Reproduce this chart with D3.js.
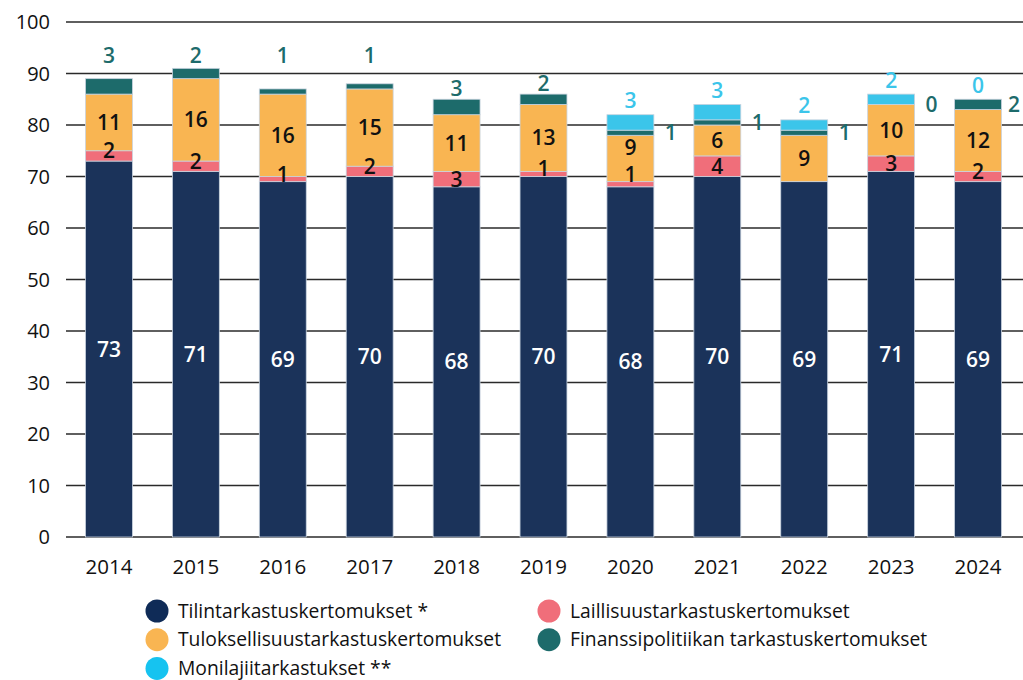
<!DOCTYPE html>
<html><head><meta charset="utf-8">
<script src="https://cdn.jsdelivr.net/npm/d3@7"></script>
<style>
body{margin:0;background:#fff;}
svg{display:block;font-family:"Open Sans",sans-serif;}
</style></head>
<body>
<svg id="chart" width="1023" height="680"></svg>
<script>
const years = ["2014","2015","2016","2017","2018","2019","2020","2021","2022","2023","2024"];
const tilintarkastus = [73,71,69,70,68,70,68,70,69,71,69];
const laillisuus = [2,2,1,2,3,1,1,4,0,3,2];
const tuloksellisuus = [11,16,16,15,11,13,9,6,9,10,12];
const finanssipolitiikka = [3,2,1,1,3,2,1,1,1,0,2];
const monilaji = [null,null,null,null,null,null,3,3,2,2,0];
const yTicks = [0,10,20,30,40,50,60,70,80,90,100];
const seriesNames = ["Tilintarkastuskertomukset *","Laillisuustarkastuskertomukset","Tuloksellisuustarkastuskertomukset","Finanssipolitiikan tarkastuskertomukset","Monilajiitarkastukset **"];

const colors = {
  til:"#1b335a", lai:"#f06e7a", tul:"#f9b552", fin:"#1d6b6b", mon:"#3bc5ea"
};

const rows = years.map((y,i)=>({year:y, til:tilintarkastus[i], lai:laillisuus[i], tul:tuloksellisuus[i], fin:finanssipolitiikka[i], mon:monilaji[i]||0}));
const keys = ["til","lai","tul","fin","mon"];
const stacked = d3.stack().keys(keys)(rows);

const svg = d3.select("#chart");
const x = d3.scaleBand().domain(years).range([65.5,1021.5]).paddingInner(0.46).paddingOuter(0.23);
const y = d3.scaleLinear().domain([0,100]).range([537,22]);

// grid
svg.append("g").selectAll("line").data(yTicks).join("line")
  .attr("x1",66).attr("x2",1023)
  .attr("y1",d=>y(d)).attr("y2",d=>y(d))
  .attr("stroke","#2a2a2a").attr("stroke-width",1.3);

// y labels
svg.append("g").selectAll("text").data(yTicks).join("text")
  .attr("x",50).attr("y",d=>y(d)).attr("dy","0.35em")
  .attr("text-anchor","end").attr("font-size",20).attr("fill","#111")
  .text(d=>d);

// x labels
svg.append("g").selectAll("text").data(years).join("text")
  .attr("x",d=>x(d)+x.bandwidth()/2).attr("y",567).attr("dy","0.35em")
  .attr("text-anchor","middle").attr("font-size",20.5).attr("fill","#111")
  .text(d=>d);

// bars
svg.append("g").selectAll("g").data(stacked).join("g")
  .attr("fill",d=>colors[d.key])
  .selectAll("rect").data(d=>d.filter(s=>s[1]-s[0]>0)).join("rect")
  .attr("x",d=>x(d.data.year)).attr("width",x.bandwidth())
  .attr("y",d=>y(d[1])).attr("height",d=>y(d[0])-y(d[1]))
  .attr("stroke","#c9d3df").attr("stroke-width",0.8);

const lab = svg.append("g").attr("font-weight",600).attr("font-size",21).attr("text-anchor","middle");
function addLabel(px,py,txt,fill){
  lab.append("text").attr("x",px).attr("y",py).attr("dy","0.36em").attr("fill",fill).text(txt);
}
rows.forEach((r,i)=>{
  const cx = x(r.year)+x.bandwidth()/2;
  const right = Math.min(x(r.year)+x.bandwidth()+17, 1014);
  const s0 = stacked[0][i], s1=stacked[1][i], s2=stacked[2][i], s3=stacked[3][i], s4=stacked[4][i];
  addLabel(cx, y((s0[0]+s0[1])/2), r.til, "#fff");
  let tulY = y((s2[0]+s2[1])/2);
  if(r.lai>0){
    let py = y((s1[0]+s1[1])/2);
    if(r.lai<=2) py -= 5;
    if(py - tulY < 25){ tulY -= 11; py -= 5; }
    addLabel(cx, py, r.lai, "#111");
  }
  addLabel(cx, tulY, r.tul, "#111");
  const top = s4[1];
  if(monilaji[i]===null){
    const py = top>=87 ? y(93.6) : y(top)-11;
    addLabel(cx, py, r.fin, colors.fin);
  } else {
    addLabel(right, y((s3[0]+s3[1])/2), r.fin, colors.fin);
    addLabel(cx, y(top)-14, monilaji[i], colors.mon);
  }
});

// legend
const legendItems = [
  {name:seriesNames[0], c:"#0f2b57", col:0,row:0},
  {name:seriesNames[1], c:colors.lai, col:1,row:0},
  {name:seriesNames[2], c:colors.tul, col:0,row:1},
  {name:seriesNames[3], c:colors.fin, col:1,row:1},
  {name:seriesNames[4], c:"#16c3f0", col:0,row:2}
];
const lg = svg.append("g").selectAll("g").data(legendItems).join("g")
  .attr("transform",d=>`translate(${d.col?549:157},${611+d.row*28.7})`);
lg.append("circle").attr("r",11.5).attr("fill",d=>d.c);
lg.append("text").attr("x",21).attr("dy","0.35em").attr("font-size",19.3).attr("fill","#111").text(d=>d.name);
</script>
</body></html>
